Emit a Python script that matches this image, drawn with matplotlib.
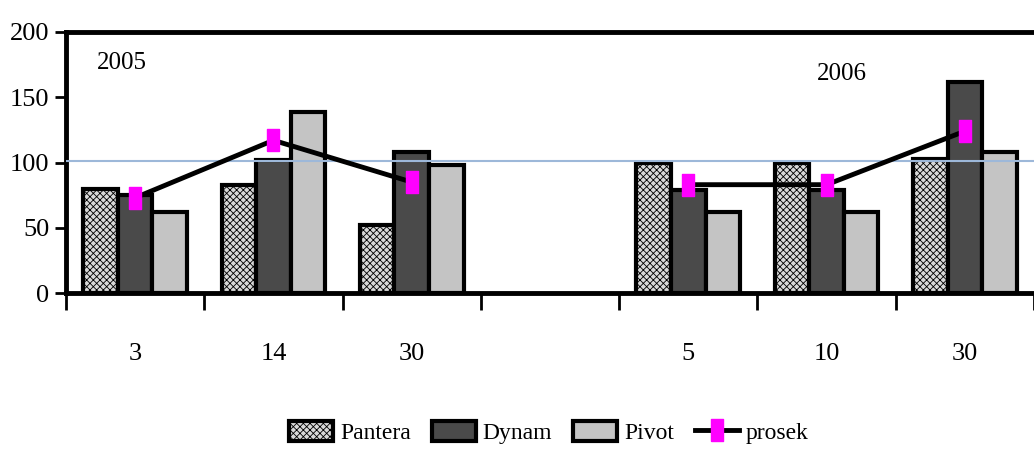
import numpy as np
import matplotlib.pyplot as plt
import matplotlib.patches as mpatches
from matplotlib.lines import Line2D

# data (two years, empty slot between them)
categories = ["3", "14", "30", "", "5", "10", "30"]
pantera = [80, 83, 52, np.nan, 100, 100, 103]
dynam = [75, 102, 108, np.nan, 79, 79, 162]
pivot = [62, 139, 98, np.nan, 62, 62, 108]
prosek = [73, 117, 85, np.nan, 83, 83, 124]
reference_level = 101

plt.rcParams['font.family'] = ['Liberation Serif', 'DejaVu Serif']
plt.rcParams['hatch.color'] = "#a0a0a0"
plt.rcParams['hatch.linewidth'] = 0.6

# tall pink rectangle used as marker
rect_marker = [(-0.55, -1), (0.55, -1), (0.55, 1), (-0.55, 1), (-0.55, -1)]

fig = plt.figure(figsize=(10.34, 4.5), dpi=100)
ax = fig.add_axes([66 / 1034, 1 - 293 / 450, 968 / 1034, 261 / 450])

x = np.arange(len(categories))
w = 0.25
ax.bar(x - w, pantera, w, color="#d8d8d8", edgecolor="black", linewidth=3,
       hatch="xxxxx", zorder=3)
ax.bar(x, dynam, w, color="#4a4a4a", edgecolor="black", linewidth=3, zorder=3)
ax.bar(x + w, pivot, w, color="#c4c4c4", edgecolor="black", linewidth=3, zorder=3)

ax.plot(x, prosek, color="black", linewidth=3.5, marker=rect_marker, markersize=16,
        markerfacecolor="#ff00ff", markeredgecolor="#ff00ff", zorder=5)

ax.axhline(reference_level, color="#9db8d9", linewidth=1.5, zorder=4)

ax.text(-0.28, 172, "2005", fontsize=18)
ax.text(4.93, 163, "2006", fontsize=18)

ax.set_xlim(-0.5, -0.5 + 968 / 139.5)
ax.set_ylim(0, 200)
ax.set_yticks([0, 50, 100, 150, 200])
ax.tick_params(axis="y", labelsize=19, width=2, length=8, pad=4)

# ticks on the category boundaries, labels at the centres
ax.set_xticks(np.arange(-0.5, 7, 1))
ax.set_xticklabels([])
ax.tick_params(axis="x", which="major", width=2, length=12)
ax.set_xticks(x, minor=True)
ax.set_xticklabels(categories, minor=True)
ax.tick_params(axis="x", which="minor", length=0, labelsize=19, pad=36)

for s in ["left", "bottom", "top"]:
    ax.spines[s].set_linewidth(3.5)
ax.spines["right"].set_visible(False)

handles = [
    mpatches.Patch(facecolor="#d8d8d8", edgecolor="black", linewidth=3, hatch="xxxxx"),
    mpatches.Patch(facecolor="#4a4a4a", edgecolor="black", linewidth=3),
    mpatches.Patch(facecolor="#c4c4c4", edgecolor="black", linewidth=3),
    Line2D([], [], color="black", linewidth=3.5, marker=rect_marker, markersize=16,
           markerfacecolor="#ff00ff", markeredgecolor="#ff00ff"),
]
fig.legend(handles, ["Pantera", "Dynam", "Pivot", "prosek"], loc="center",
           bbox_to_anchor=(0.531, 0.038), ncol=4, frameon=False, fontsize=17,
           handlelength=1.85, handleheight=0.9, handletextpad=0.3, columnspacing=0.9)

fig.savefig("out.png", dpi=100)
